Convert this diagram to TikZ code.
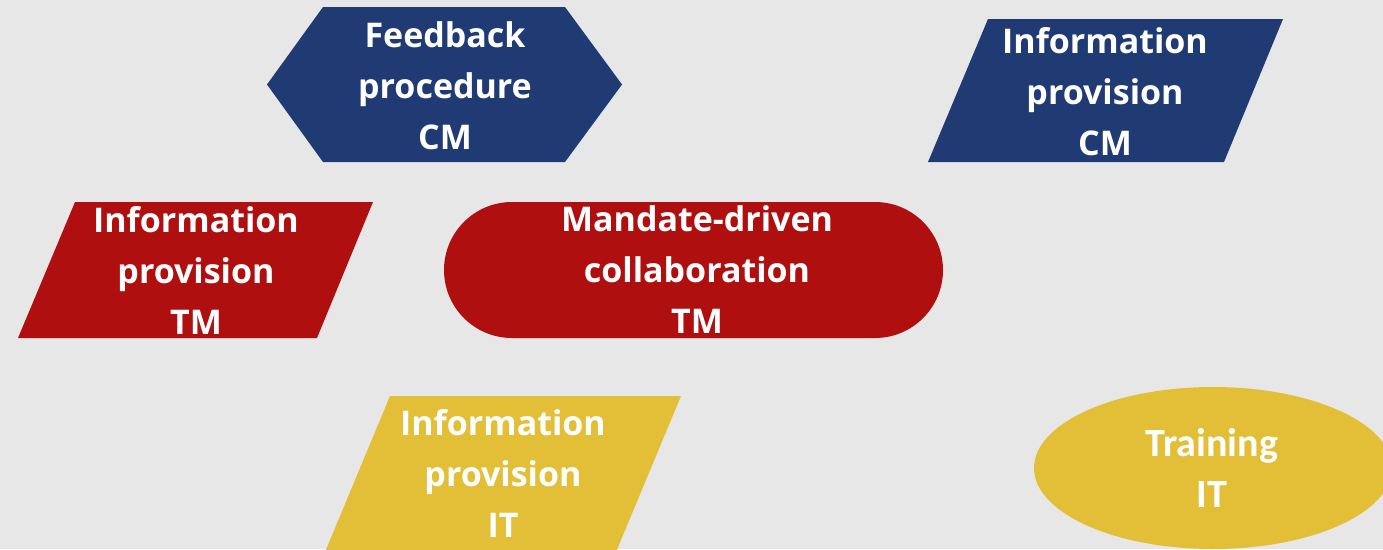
\documentclass[tikz,border=0pt]{standalone}
\usepackage{fontspec}
\setmainfont{Open Sans}
\newfontfamily\calib{Carlito}
\definecolor{bg}{RGB}{231,231,231}
\definecolor{navy}{RGB}{32,59,115}
\definecolor{crimson}{RGB}{176,15,16}
\definecolor{gold}{RGB}{227,191,55}
\tikzset{
  lbl/.style={text=white, align=center, font=\fontsize{34}{51}\selectfont\bfseries, inner sep=0pt},
  lblc/.style={text=white, align=center, font=\calib\fontsize{40}{51}\selectfont\bfseries, inner sep=0pt}
}
\begin{document}
\begin{tikzpicture}[x=1pt,y=-1pt]
\useasboundingbox (0,0) rectangle (1383,549);
\fill[bg] (0,0) rectangle (1383,549);
\clip (0,0) rectangle (1383,549);
% shapes
\fill[navy] (267,84.5) -- (323,7) -- (565,7) -- (622,84.5) -- (565,162) -- (323,162) -- cycle;
\fill[navy] (988,19) -- (1283,19) -- (1224,162) -- (928,162) -- cycle;
\fill[crimson] (75,202) -- (373,202) -- (317,338) -- (18,338) -- cycle;
\fill[crimson, rounded corners=68pt] (444,202) rectangle (943,338);
\fill[gold] (390,396) -- (681,396) -- (616,552) -- (325,552) -- cycle;
\fill[gold] (1213,468) ellipse [x radius=179, y radius=81];
% labels
\node[lbl] (fb) at (445,86) {Feedback\\procedure\\CM};
\node[lbl] (icm) at (1105,92) {Information\\provision\\CM};
\node[lbl] (itm) at (196,270) {Information\\provision\\TM};
\node[lbl] (mdc) at (697,270) {Mandate-driven\\collaboration\\TM};
\node[lbl] (iit) at (503,473) {Information\\provision\\IT};
\node[lblc] (tit) at (1212,468) {Training\\IT};
\end{tikzpicture}
\end{document}
